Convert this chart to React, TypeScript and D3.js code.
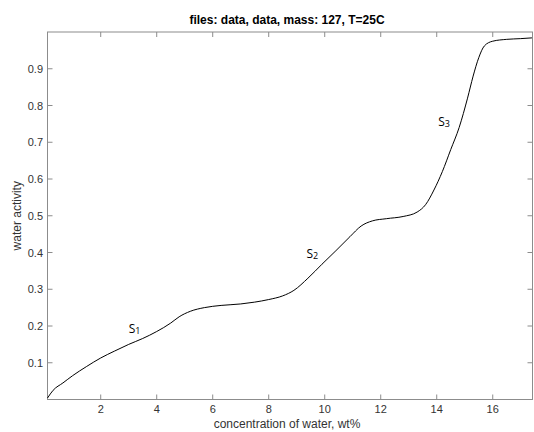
import React from "react";
import * as d3 from "d3";

const xValues = [0.1, 0.3, 0.65, 1.0, 1.5, 2.0, 2.5, 3.0, 3.5, 4.0, 4.5, 4.8, 5.2, 5.7, 6.3, 7.0, 7.5, 8.0, 8.5, 8.9, 9.4, 9.9, 10.4, 10.9, 11.3, 11.7, 12.2, 12.8, 13.3, 13.6, 13.9, 14.2, 14.5, 14.8, 15.1, 15.3, 15.5, 15.7, 16.0, 16.5, 17.0, 17.4];
const yValues = [0.004, 0.025, 0.045, 0.065, 0.09, 0.113, 0.132, 0.15, 0.166, 0.185, 0.208, 0.225, 0.24, 0.25, 0.256, 0.26, 0.265, 0.272, 0.282, 0.297, 0.33, 0.368, 0.405, 0.443, 0.472, 0.486, 0.492, 0.498, 0.51, 0.53, 0.57, 0.62, 0.68, 0.74, 0.82, 0.88, 0.93, 0.962, 0.975, 0.98, 0.982, 0.984];
const xTicks = [2, 4, 6, 8, 10, 12, 14, 16];
const yTicks = [0.1, 0.2, 0.3, 0.4, 0.5, 0.6, 0.7, 0.8, 0.9];
const annotations = [
  { x: 3.0, y: 0.18, main: "S", sub: "1" },
  { x: 9.35, y: 0.385, main: "S", sub: "2" },
  { x: 14.05, y: 0.745, main: "S", sub: "3" },
];
const title = "files: data, data, mass: 127, T=25C";
const xLabel = "concentration of water, wt%";
const yLabel = "water activity";

export default function App() {
  const W = 534, H = 432;
  const left = 47.5, right = 532.5, top = 32, bottom = 399.5;
  const x = d3.scaleLinear().domain([0.1, 17.42]).range([left, right]);
  const y = d3.scaleLinear().domain([0, 1]).range([bottom, top]);
  const pts: [number, number][] = xValues.map((v, i) => [v, yValues[i]]);
  const line = d3.line<[number, number]>().x(d => x(d[0])).y(d => y(d[1])).curve(d3.curveMonotoneX);
  const axisColor = "#8c8c8c";
  const textColor = "#333333";
  const font = "'Liberation Sans', Arial, sans-serif";
  const tl = 5;
  return (
    <svg width={W} height={H} style={{ position: "absolute", left: 0, top: 0, background: "#fff" }}>
      <rect x={0} y={0} width={W} height={H} fill="#fff" />
      <text x={287} y={24} textAnchor="middle" fontFamily={font} fontSize={12} fontWeight="bold" fill="#000">{title}</text>
      <rect x={left} y={top} width={right - left} height={bottom - top} fill="none" stroke={axisColor} strokeWidth={1} />
      {xTicks.map(t => (
        <g key={"x" + t}>
          <line x1={x(t)} x2={x(t)} y1={bottom} y2={bottom - tl} stroke={axisColor} />
          <line x1={x(t)} x2={x(t)} y1={top} y2={top + tl} stroke={axisColor} />
          <text x={x(t)} y={413} textAnchor="middle" fontFamily={font} fontSize={11} fill={textColor}>{t}</text>
        </g>
      ))}
      {yTicks.map(t => (
        <g key={"y" + t}>
          <line x1={left} x2={left + tl} y1={y(t)} y2={y(t)} stroke={axisColor} />
          <line x1={right} x2={right - tl} y1={y(t)} y2={y(t)} stroke={axisColor} />
          <text x={43} y={y(t) + 4} textAnchor="end" fontFamily={font} fontSize={11} fill={textColor}>{t.toFixed(1)}</text>
        </g>
      ))}
      <text x={287} y={428} textAnchor="middle" fontFamily={font} fontSize={12} fill={textColor}>{xLabel}</text>
      <text transform={`translate(21,${(top + bottom) / 2}) rotate(-90)`} textAnchor="middle" fontFamily={font} fontSize={12} fill={textColor}>{yLabel}</text>
      <path d={line(pts) || ""} fill="none" stroke="#000" strokeWidth={1} />
      {annotations.map((a, i) => (
        <text key={i} x={x(a.x)} y={y(a.y)} fontFamily="'Open Sans', sans-serif" fontSize={12} fill="#000">
          {a.main}
          <tspan fontSize={9} dy={1}>{a.sub}</tspan>
        </text>
      ))}
    </svg>
  );
}
